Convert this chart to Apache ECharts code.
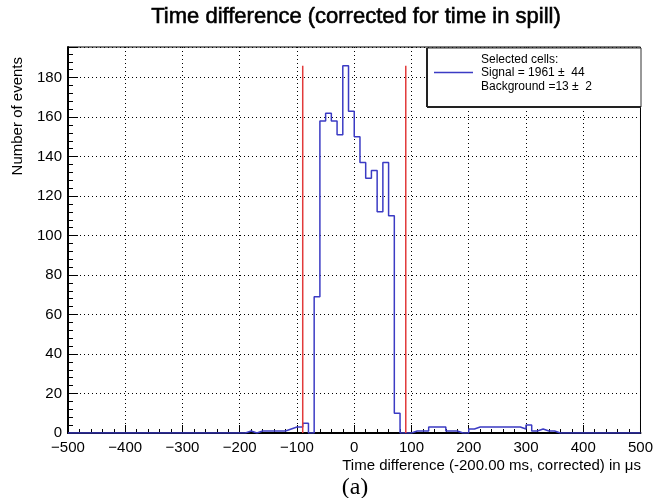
<!DOCTYPE html>
<html>
<head>
<meta charset="utf-8">
<script src="https://cdn.jsdelivr.net/npm/echarts@6/dist/echarts.min.js"></script>
<style>
html,body{margin:0;padding:0;background:#fff;}
#chart{width:656px;height:498px;}
</style>
</head>
<body>
<div id="chart"></div>
<script>
// ---- data ----
const binLow = -500;
const binWidth = 10;
const counts = [
  0,0,0,0,0,0,0,0,0,0,          // -500 .. -400
  0,0,0,0,0,0,0,0,0,0,          // -400 .. -300
  0,0,0,0,0,0,0,0,0,0,          // -300 .. -200
  0,1,0,1,1,1,1,1,2,3,          // -200 .. -100
  3,5,0,69,158,162,158,151,186,163, // -100 .. 0
  150,137,129,133,112,137,110,10,0,0, // 0 .. 100
  1,1,1,3,3,3,1,1,0,0,          // 100 .. 200
  2,3,3,3,3,3,3,3,3,2,          // 200 .. 300
  4,1,2,1,1,0,0,0,0,0,          // 300 .. 400
  0,0,0,0,0,0,0,0,0,0           // 400 .. 500
];
const cutLines = [-90, 90];
const cutHeight = 186;
const xRange = [-500, 500];
const yRange = [0, 195.5];
const titleText = 'Time difference (corrected for time in spill)';
const xTitle = 'Time difference (-200.00 ms, corrected) in \u03bcs';
const yTitle = 'Number of events';
const legendLines = ['Selected cells:', 'Signal = 1961 \u00b1  44', 'Background =13 \u00b1  2'];
const caption = '(a)';

// ---- build ----
const histData = counts.map((c, i) => [binLow + i * binWidth, c]);
histData.push([binLow + counts.length * binWidth, counts[counts.length - 1]]);

const blue = '#3b3bc4';
const red = '#e23a3a';
const font = 'Liberation Sans, Arial, Helvetica, sans-serif';

const series = [{
  type: 'line',
  step: 'end',
  data: histData,
  showSymbol: false,
  symbol: 'none',
  lineStyle: { color: blue, width: 1.5 },
  z: 3,
  silent: true
}];
cutLines.forEach(x => {
  series.push({
    type: 'line',
    data: [[x, 0], [x, cutHeight]],
    symbol: 'none',
    lineStyle: { color: red, width: 1.5 },
    z: 4,
    silent: true
  });
});

const chart = echarts.init(document.getElementById('chart'), null, { renderer: 'canvas' });
chart.setOption({
  animation: false,
  backgroundColor: '#fff',
  grid: { left: 68, right: 15, top: 47, bottom: 65, show: true, borderColor: '#000', borderWidth: 1, backgroundColor: 'transparent' },
  xAxis: {
    type: 'value', min: xRange[0], max: xRange[1], interval: 100,
    axisLine: { show: true, onZero: false, lineStyle: { color: '#000', width: 2 } },
    axisTick: { show: true, inside: true, length: 8, lineStyle: { color: '#000', width: 1 } },
    minorTick: { show: true, splitNumber: 5, length: 4, lineStyle: { color: '#000', width: 1 } },
    splitLine: { show: true, lineStyle: { color: '#000', width: 1, type: [1, 3] } },
    axisLabel: { color: '#000', fontSize: 15, fontFamily: font, margin: 7, showMinLabel: true, showMaxLabel: true,
      formatter: v => String(v).replace('-', '\u2212') }
  },
  yAxis: {
    type: 'value', min: yRange[0], max: yRange[1], interval: 20,
    axisLine: { show: true, onZero: false, lineStyle: { color: '#000', width: 2 } },
    axisTick: { show: true, inside: true, length: 10, lineStyle: { color: '#000', width: 1 } },
    minorTick: { show: true, splitNumber: 5, length: 5, lineStyle: { color: '#000', width: 1 } },
    splitLine: { show: true, lineStyle: { color: '#000', width: 1, type: [1, 3] } },
    axisLabel: { color: '#000', fontSize: 15, fontFamily: font, margin: 6, showMaxLabel: false, showMinLabel: true }
  },
  series: series,
  graphic: [
    { type: 'text', x: 356, y: 17, style: { text: titleText, font: '22px ' + font, fill: '#000', stroke: '#000', lineWidth: 0.6, align: 'center', verticalAlign: 'middle' } },
    { type: 'text', x: 641, y: 466, style: { text: xTitle, font: '15px ' + font, fill: '#000', align: 'right', verticalAlign: 'middle' } },
    { type: 'text', x: 18, y: 57, rotation: Math.PI / 2, style: { text: yTitle, font: '15px ' + font, fill: '#000', align: 'right', verticalAlign: 'middle' } },
    { type: 'text', x: 355, y: 488, style: { text: caption, font: '24px Liberation Serif, Times New Roman, serif', fill: '#000', align: 'center', verticalAlign: 'middle' } },
    { type: 'rect', shape: { x: 427, y: 48, width: 214, height: 59 }, style: { fill: '#fff', stroke: '#333', lineWidth: 1 }, z: 10 },
    { type: 'line', shape: { x1: 427, y1: 48, x2: 427, y2: 107 }, style: { stroke: '#222', lineWidth: 2 }, z: 11 },
    { type: 'line', shape: { x1: 427, y1: 107, x2: 641, y2: 107 }, style: { stroke: '#222', lineWidth: 2 }, z: 11 },
    { type: 'line', shape: { x1: 434, y1: 72.5, x2: 473, y2: 72.5 }, style: { stroke: blue, lineWidth: 1.5 }, z: 11 },
    { type: 'text', x: 481, y: 59.5, style: { text: legendLines[0], font: '12px ' + font, fill: '#000', verticalAlign: 'middle' }, z: 11 },
    { type: 'text', x: 481, y: 73, style: { text: legendLines[1], font: '12px ' + font, fill: '#000', verticalAlign: 'middle' }, z: 11 },
    { type: 'text', x: 481, y: 87, style: { text: legendLines[2], font: '12px ' + font, fill: '#000', verticalAlign: 'middle' }, z: 11 }
  ]
});
</script>
</body>
</html>
